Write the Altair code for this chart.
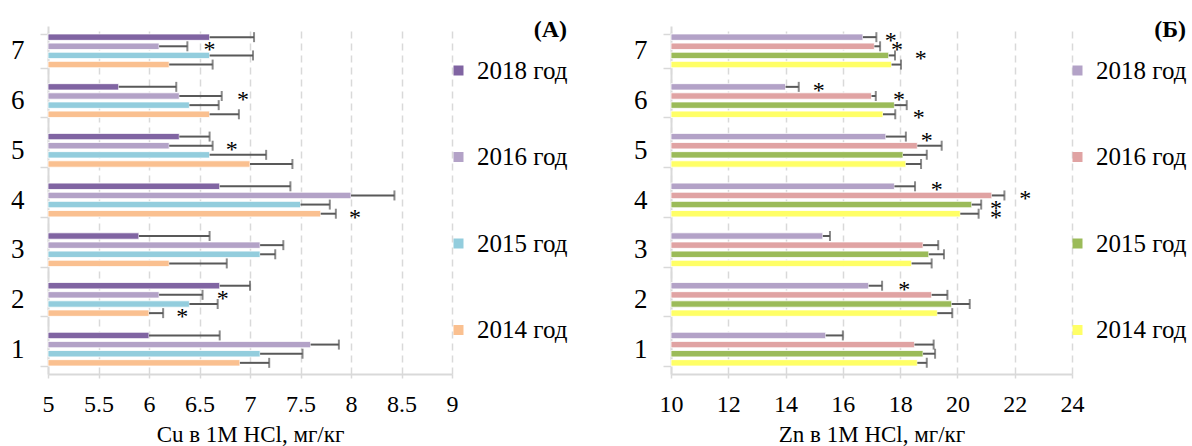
import altair as alt
import pandas as pd

FONT = "Liberation Serif"

groups = ["1", "2", "3", "4", "5", "6", "7"]
years = ["2018 год", "2016 год", "2015 год", "2014 год"]

# Cu, mg/kg (groups 1..7) and error half-widths
cu_2018 = [6.0, 6.7, 5.9, 6.7, 6.3, 5.7, 6.6]
cu_2018_err = [0.7, 0.3, 0.7, 0.7, 0.3, 0.57, 0.44]
cu_2016 = [7.6, 6.1, 7.1, 8.0, 6.2, 6.3, 6.1]
cu_2016_err = [0.28, 0.43, 0.23, 0.43, 0.43, 0.42, 0.28]
cu_2015 = [7.1, 6.4, 7.1, 7.5, 6.6, 6.4, 6.6]
cu_2015_err = [0.42, 0.28, 0.15, 0.29, 0.56, 0.29, 0.43]
cu_2014 = [6.9, 6.0, 6.2, 7.7, 7.0, 6.6, 6.2]
cu_2014_err = [0.29, 0.14, 0.57, 0.15, 0.42, 0.29, 0.43]

# Zn, mg/kg (groups 1..7) and error half-widths
zn_2018 = [15.4, 16.9, 15.3, 17.8, 17.5, 14.0, 16.7]
zn_2018_err = [0.6, 0.47, 0.25, 0.72, 0.7, 0.46, 0.47]
zn_2016 = [18.5, 19.1, 18.8, 21.2, 18.6, 17.0, 17.1]
zn_2016_err = [0.67, 0.55, 0.53, 0.44, 0.85, 0.15, 0.2]
zn_2015 = [18.8, 19.8, 19.0, 20.5, 18.1, 17.8, 17.6]
zn_2015_err = [0.42, 0.63, 0.53, 0.33, 0.83, 0.43, 0.22]
zn_2014 = [18.6, 19.3, 18.4, 20.1, 18.2, 17.4, 17.7]
zn_2014_err = [0.33, 0.52, 0.7, 0.64, 0.53, 0.43, 0.33]

# significance markers: group, year, position on the value axis
cu_star_group = ["7", "6", "5", "4", "2", "2"]
cu_star_year = ["2016 год", "2016 год", "2016 год", "2014 год", "2016 год", "2014 год"]
cu_star_pos = [6.6, 6.93, 6.82, 8.04, 6.73, 6.33]

zn_star_group = ["7", "7", "7", "6", "6", "6", "5", "4", "4", "4", "4", "2"]
zn_star_year = ["2018 год", "2016 год", "2015 год", "2018 год", "2016 год", "2014 год",
                "2018 год", "2018 год", "2016 год", "2015 год", "2014 год", "2018 год"]
zn_star_pos = [17.67, 17.89, 18.72, 15.16, 17.96, 18.65, 18.93, 19.28, 22.37, 21.35, 21.35, 18.14]

cu_colors = ["#8064A2", "#B3A2C7", "#93CDDD", "#FAC090"]
zn_colors = ["#B3A2C7", "#E0A3A3", "#9BBB59", "#FFFF66"]

cu_ticks = [5, 5.5, 6, 6.5, 7, 7.5, 8, 8.5, 9]
zn_ticks = [10, 12, 14, 16, 18, 20, 22, 24]


def frame(series):
    rows = []
    for year, (vals, errs) in zip(years, series):
        for g, v, e in zip(groups, vals, errs):
            rows.append({"group": g, "year": year, "value": v, "high": round(v + e, 3)})
    return pd.DataFrame(rows)


cu_df = frame([(cu_2018, cu_2018_err), (cu_2016, cu_2016_err),
               (cu_2015, cu_2015_err), (cu_2014, cu_2014_err)])
zn_df = frame([(zn_2018, zn_2018_err), (zn_2016, zn_2016_err),
               (zn_2015, zn_2015_err), (zn_2014, zn_2014_err)])
cu_stars = pd.DataFrame({"group": cu_star_group, "year": cu_star_year, "pos": cu_star_pos})
zn_stars = pd.DataFrame({"group": zn_star_group, "year": zn_star_year, "pos": zn_star_pos})


def panel(df, stars, colors, ticks, xtitle, tag, legend_x, width, height):
    domain = [ticks[0], ticks[-1]]
    xscale = alt.Scale(domain=domain, nice=False, zero=False)
    xaxis = alt.Axis(values=ticks, grid=True, gridDash=[7, 5], gridColor="#d9d9d9",
                     gridWidth=1.5, tickSize=4, labelPadding=14,
                     labelFont=FONT, labelFontSize=24, labelColor="black",
                     titleFont=FONT, titleFontSize=23, titleFontWeight="normal",
                     titleColor="black", titlePadding=7, labelFlush=False, format="~g")

    def x(field):
        return alt.X(field, scale=xscale, axis=xaxis, title=xtitle)

    y = alt.Y("group:N", sort="descending", title=None,
              scale=alt.Scale(paddingInner=0.32, paddingOuter=0.16),
              axis=alt.Axis(tickBand="extent", tickSize=8, labelPadding=16,
                            labelFont=FONT, labelFontSize=27, labelColor="black",
                            labelAngle=0))
    yoff = alt.YOffset("year:N", sort=years,
                       scale=alt.Scale(paddingInner=0.3, paddingOuter=0))
    color = alt.Color("year:N", sort=years,
                      scale=alt.Scale(domain=years, range=colors),
                      legend=alt.Legend(orient="none", legendX=legend_x, legendY=-8,
                                        title=tag, titleFont=FONT, titleFontSize=24,
                                        titleFontWeight="bold", titleColor="black",
                                        titleAnchor="end", titlePadding=16,
                                        labelFont=FONT, labelFontSize=25, labelColor="black",
                                        symbolType="square", symbolSize=100,
                                        symbolStrokeWidth=0, rowPadding=60.5, padding=0,
                                        labelOffset=6))

    bars = alt.Chart(df).mark_bar(stroke="white", strokeWidth=0.8).encode(
        x=x("value:Q"), x2=alt.datum(ticks[0]), y=y, yOffset=yoff, color=color)
    err = alt.Chart(df).mark_rule(color="#595959", strokeWidth=2).encode(
        x=x("value:Q"), x2="high:Q", y=y, yOffset=yoff)
    caps = alt.Chart(df).mark_tick(color="#595959", thickness=2, size=10).encode(
        x=x("high:Q"), y=y, yOffset=yoff)
    marks = alt.Chart(stars).mark_text(text="*", font=FONT, fontSize=24,
                                        baseline="middle", dy=4, color="black").encode(
        x=x("pos:Q"), y=y, yOffset=yoff)
    return alt.layer(bars, err, caps, marks).properties(width=width, height=height)


left = panel(cu_df, cu_stars, cu_colors, cu_ticks, "Cu в 1M HCl, мг/кг", "(A)", 398, 404, 348)
right = panel(zn_df, zn_stars, zn_colors, zn_ticks, "Zn в 1M HCl, мг/кг", "(Б)", 394, 401, 348)

chart = alt.hconcat(left, right, spacing=65).resolve_scale(
    color="independent", x="independent", y="independent"
).properties(
    padding={"left": 10, "top": 12, "right": 0, "bottom": 0},
    background="white"
).configure_view(stroke=None).configure_axis(
    domainColor="#d9d9d9", domainWidth=2, tickColor="#d9d9d9", tickWidth=1.5
)

chart.save("out.html", embed_options={"renderer": "svg", "actions": False})
